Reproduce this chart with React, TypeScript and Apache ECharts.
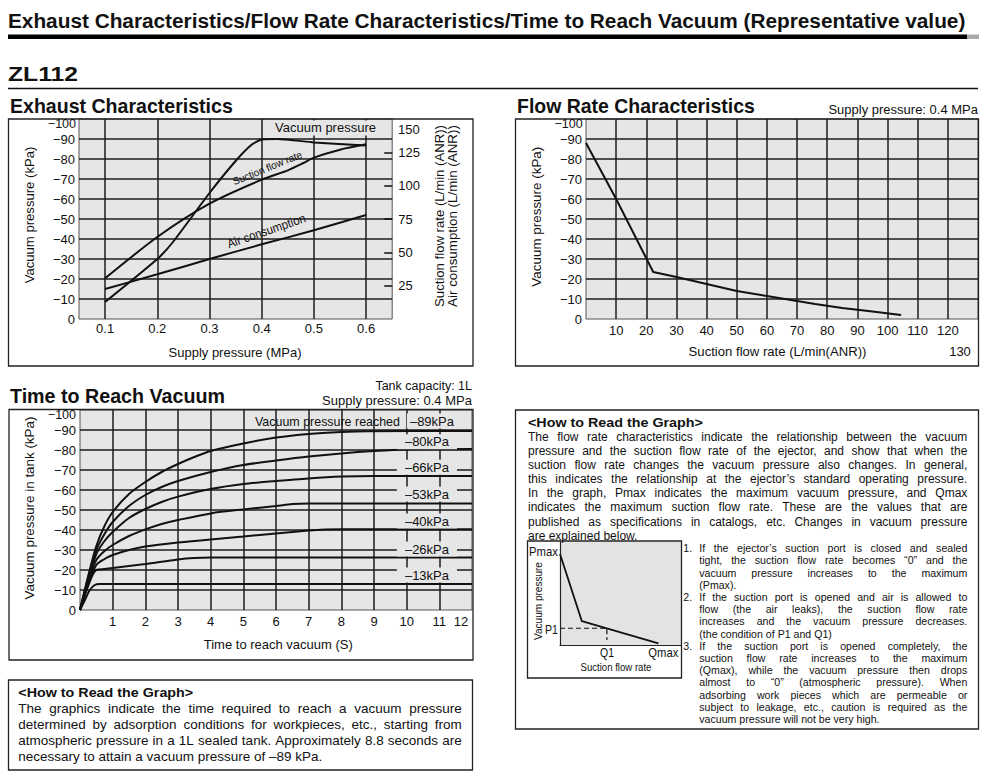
import React, { useEffect, useRef } from "react";
import * as echarts from "echarts";

const FONT = '"Liberation Sans", Arial, Helvetica, sans-serif';
const INK = "#111111";
const GRID_LINE = "#1c1c1c";
const PLOT_BG = "#e6e6e6";

// ---------- Exhaust characteristics (x = supply pressure, MPa) ----------
const vacuumPressureKPa: [number, number][] = [
  [0.1, -8.5], [0.2, -30], [0.23, -38.5], [0.3, -63], [0.35, -79], [0.38, -87],
  [0.4, -89.8], [0.43, -90], [0.5, -88.3], [0.6, -86.8],
];
const suctionFlowLmin: [number, number][] = [
  [0.1, 30.5], [0.2, 61.5], [0.3, 86.5], [0.4, 104.5], [0.45, 111.5], [0.48, 117],
  [0.5, 121], [0.55, 127], [0.6, 131],
];
const airConsumptionLmin: [number, number][] = [
  [0.1, 22.5], [0.2, 33.5], [0.3, 45], [0.4, 56], [0.5, 66.5], [0.6, 78],
];
const exhaustXTicks = [0.1, 0.2, 0.3, 0.4, 0.5, 0.6];
const flowAxisTicks = [25, 50, 75, 100, 125];

// ---------- Flow rate characteristics (supply pressure 0.4 MPa) ----------
const flowCurve: [number, number][] = [
  [0, -88], [10, -60], [22.3, -23.5], [30, -21], [40, -17.5], [50, -14], [60, -11.5],
  [70, -9], [76, -7.5], [85, -5.5], [95, -3.7], [104.5, -2],
];
const flowXTicks = [10, 20, 30, 40, 50, 60, 70, 80, 90, 100, 110, 120];

// ---------- Time to reach vacuum (tank 1L, 0.4 MPa) ----------
const reach89: [number, number][] = [
  [0, 0], [0.25, -17], [0.5, -32], [0.75, -42], [1, -49], [1.5, -58], [2, -64], [2.5, -69],
  [3, -73], [3.5, -76.5], [4, -79.5], [5, -83.3], [6, -86.2], [7, -88], [8, -89], [8.8, -89.4], [12, -89.5],
];
const reach80: [number, number][] = [
  [0, 0], [0.25, -16], [0.5, -30], [0.75, -38], [1, -44], [1.5, -52], [2, -57.5], [2.5, -61.5],
  [3, -64.5], [4, -69], [5, -72.5], [6, -74.7], [7, -76.7], [8, -78.3], [9, -79.5], [10, -80.3], [12, -80.5],
];
const reach66: [number, number][] = [
  [0, 0], [0.25, -15], [0.5, -28], [0.75, -34.5], [1, -39], [1.5, -46], [2, -50.5], [2.5, -54],
  [3, -56.7], [4, -60.5], [5, -63], [6, -64.5], [7, -65.8], [8, -66.7], [9, -67], [12, -67],
];
const reach53: [number, number][] = [
  [0, 0], [0.25, -14], [0.5, -25], [0.75, -29.5], [1, -32.5], [1.5, -37], [2, -40.3], [2.5, -43],
  [3, -45], [4, -48.3], [5, -50.3], [6, -52], [6.5, -53], [7, -53.3], [12, -53.3],
];
const reach40: [number, number][] = [
  [0, 0], [0.25, -13], [0.5, -22.5], [0.75, -25.5], [1, -27.5], [1.5, -30], [2, -31.7], [3, -33.7],
  [4, -35.3], [5, -36.7], [6, -38.3], [7, -39.7], [7.5, -40.2], [8, -40.4], [12, -40.4],
];
const reach26: [number, number][] = [
  [0, 0], [0.25, -12], [0.4, -18], [0.5, -20], [0.75, -20.5], [1, -21], [2, -23], [3, -25.3],
  [3.5, -26], [4, -26.2], [12, -26.2],
];
const reach13: [number, number][] = [
  [0, 0], [0.15, -5], [0.3, -10], [0.45, -12.5], [0.6, -13], [12, -13],
];
const reachCurves = [reach89, reach80, reach66, reach53, reach40, reach26, reach13];
const reachLabels = ["–89kPa", "–80kPa", "–66kPa", "–53kPa", "–40kPa", "–26kPa", "–13kPa"];
const timeXTicks = [1, 2, 3, 4, 5, 6, 7, 8, 9, 10, 11];

// ---------- Schematic P-Q graph (relative units) ----------
const pqCurve: [number, number][] = [[0, 88], [18, 23], [81, 1.6]];
const pqDash: [number, number][] = [[0, 16.2], [38.6, 16.2], [38.6, 4.8]];

// ---------- Texts ----------
const rightParagraph = [
  "The flow rate characteristics indicate the relationship between the vacuum",
  "pressure and the suction flow rate of the ejector, and show that when the",
  "suction flow rate changes the vacuum pressure also changes. In general,",
  "this indicates the relationship at the ejector’s standard operating pressure.",
  "In the graph, Pmax indicates the maximum vacuum pressure, and Qmax",
  "indicates the maximum suction flow rate. These are the values that are",
  "published as specifications in catalogs, etc. Changes in vacuum pressure",
  "are explained below.",
];
const listLines: [string, string, boolean][] = [
  ["1.", "If the ejector’s suction port is closed and sealed", true],
  ["", "tight, the suction flow rate becomes “0” and the", true],
  ["", "vacuum pressure increases to the maximum", true],
  ["", "(Pmax).", false],
  ["2.", "If the suction port is opened and air is allowed to", true],
  ["", "flow (the air leaks), the suction flow rate", true],
  ["", "increases and the vacuum pressure decreases.", true],
  ["", "(the condition of P1 and Q1)", false],
  ["3.", "If the suction port is opened completely, the", true],
  ["", "suction flow rate increases to the maximum", true],
  ["", "(Qmax), while the vacuum pressure then drops", true],
  ["", "almost to “0” (atmospheric pressure). When", true],
  ["", "adsorbing work pieces which are permeable or", true],
  ["", "subject to leakage, etc., caution is required as the", true],
  ["", "vacuum pressure will not be very high.", false],
];
const leftParagraph = [
  "The graphics indicate the time required to reach a vacuum pressure",
  "determined by adsorption conditions for workpieces, etc., starting from",
  "atmospheric pressure in a 1L sealed tank. Approximately 8.8 seconds are",
  "necessary to attain a vacuum pressure of –89 kPa.",
];

// ---------- helpers ----------
let mctx: CanvasRenderingContext2D | null = null;
function textWidth(s: string, size: number, weight: string) {
  if (!mctx) mctx = document.createElement("canvas").getContext("2d");
  mctx!.font = `${weight} ${size}px ${FONT}`;
  return mctx!.measureText(s).width;
}

type TOpt = {
  size?: number; weight?: string; align?: string; fit?: number; rot?: number;
  bg?: string; pad?: number[]; fill?: string; z?: number;
};
function T(text: string, x: number, y: number, o: TOpt = {}) {
  const size = o.size ?? 13;
  const weight = o.weight ?? "normal";
  const sx = o.fit ? o.fit / textWidth(text, size, weight) : 1;
  const align = o.align ?? "left";
  return {
    type: "text", x, y, rotation: o.rot ?? 0, scaleX: sx, scaleY: 1, z: o.z ?? 20, silent: true,
    style: {
      text, fill: o.fill ?? INK, font: `${weight} ${size}px ${FONT}`,
      align, verticalAlign: "middle", textAlign: align, textVerticalAlign: "middle",
      backgroundColor: o.bg, padding: o.pad,
    },
  };
}

function justified(line: string, x: number, y: number, width: number, size: number, full: boolean) {
  if (!full) {
    const nat = textWidth(line, size, "normal");
    return [T(line, x, y, { size, fit: nat > width ? width : undefined })];
  }
  const words = line.split(" ");
  const ws = words.map((w) => textWidth(w, size, "normal"));
  const total = ws.reduce((a, b) => a + b, 0);
  const minGap = textWidth(" ", size, "normal") * 0.8;
  let gap = (width - total) / (words.length - 1);
  let sc = 1;
  if (gap < minGap) {
    gap = minGap;
    sc = (width - minGap * (words.length - 1)) / total;
  }
  const out: any[] = [];
  let cx = x;
  words.forEach((w, i) => {
    out.push(T(w, cx, y, { size, fit: ws[i] * sc }));
    cx += ws[i] * sc + gap;
  });
  return out;
}

const box = (x: number, y: number, w: number, h: number) => ({
  type: "rect", z: 15, silent: true, shape: { x, y, width: w, height: h },
  style: { fill: "none", stroke: "#222", lineWidth: 1.3 },
});

const negFmt = (v: number) => (v === 0 ? "0" : v <= -100 ? "" : "−" + Math.abs(v));
const labelBase = { color: INK, fontSize: 13, fontFamily: FONT };
const gl = { color: GRID_LINE, width: 1.5 };

function pressureAxis(gridIndex: number) {
  return {
    type: "value", gridIndex, min: -100, max: 0, interval: 10, inverse: true,
    axisLine: { show: false }, axisTick: { show: false },
    axisLabel: { ...labelBase, margin: 4, formatter: negFmt },
    splitLine: { show: true, showMinLine: false, showMaxLine: false, lineStyle: gl },
  };
}

function curve(xi: number, yi: number, data: [number, number][], smooth: number, extra: any = {}) {
  return {
    type: "line", xAxisIndex: xi, yAxisIndex: yi, data, smooth,
    symbol: "none", showSymbol: false, silent: true, z: 3,
    lineStyle: { color: INK, width: 2 }, ...extra,
  };
}

export default function App() {
  const ref = useRef<HTMLDivElement>(null);
  useEffect(() => {
    if (!ref.current) return;
    const chart = echarts.init(ref.current, undefined, { renderer: "svg" });

    const els: any[] = [];
    // header
    els.push(T("Exhaust Characteristics/Flow Rate Characteristics/Time to Reach Vacuum (Representative value)", 8, 21, { size: 20, weight: "bold", fit: 958 }));
    els.push({ type: "rect", silent: true, z: 15, shape: { x: 8, y: 34.5, width: 959, height: 4.5 }, style: { fill: "#000" } });
    els.push({ type: "rect", silent: true, z: 15, shape: { x: 967, y: 34.5, width: 12, height: 4.5 }, style: { fill: "#aaa" } });
    els.push(T("ZL112", 8, 74, { size: 20, weight: "bold", fit: 70 }));
    els.push({ type: "line", silent: true, z: 15, shape: { x1: 8, y1: 88.5, x2: 978, y2: 88.5 }, style: { stroke: "#111", lineWidth: 1.5 } });

    // section titles
    els.push(T("Exhaust Characteristics", 10, 106, { size: 19.5, weight: "bold", fit: 223 }));
    els.push(T("Flow Rate Characteristics", 517, 106, { size: 19.5, weight: "bold", fit: 238 }));
    els.push(T("Supply pressure: 0.4 MPa", 978, 109, { align: "right" }));
    els.push(T("Time to Reach Vacuum", 10, 396, { size: 19.5, weight: "bold", fit: 215 }));
    els.push(T("Tank capacity: 1L", 472, 386.2, { align: "right", size: 12.5 }));
    els.push(T("Supply pressure: 0.4 MPa", 472, 400.8, { align: "right", size: 12.5, fit: 150 }));

    // boxes
    els.push(box(8.5, 119, 464.5, 247));
    els.push(box(515.5, 119, 463, 247));
    els.push(box(9, 409.5, 464, 250.5));
    els.push(box(8.5, 680, 464, 90));
    els.push(box(515.5, 410, 463, 319));
    els.push(box(527.5, 541, 154, 137));

    const R = Math.PI / 2;
    // top "−100" labels sit a little below the plot top
    els.push(T("−100", 76, 124.4, { align: "right", size: 12.5 }));
    els.push(T("−100", 582.7, 124.4, { align: "right", size: 12.5 }));
    els.push(T("−100", 76, 415.2, { align: "right", size: 12.5 }));

    // exhaust texts
    els.push(T("Vacuum pressure (kPa)", 30, 215, { align: "center", rot: R, fit: 137 }));
    els.push(T("Suction flow rate (L/min (ANR))", 440, 216, { align: "center", rot: R, fit: 182 }));
    els.push(T("Air consumption (L/min (ANR))", 452.5, 216, { align: "center", rot: R, fit: 182 }));
    els.push(T("Supply pressure (MPa)", 235, 352, { align: "center", fit: 133 }));
    els.push(T("150", 398, 129));
    els.push(T("Vacuum pressure", 325.5, 128, { align: "center", fit: 101, bg: PLOT_BG, pad: [1, 3] }));
    els.push(T("Suction flow rate", 267.3, 168, { align: "center", size: 10.5, fit: 74, rot: 0.39 }));
    els.push(T("Air consumption", 266.3, 231, { align: "center", size: 12.5, fit: 82, rot: 0.33 }));

    // flow texts
    els.push(T("Vacuum pressure (kPa)", 537, 216.7, { align: "center", rot: R, fit: 140 }));
    els.push(T("Suction flow rate (L/min(ANR))", 777.5, 352, { align: "center", fit: 178 }));
    els.push(T("130", 960, 351, { align: "center" }));

    // time texts
    els.push(T("Vacuum pressure in tank (kPa)", 30, 508, { align: "center", rot: R, fit: 183 }));
    els.push(T("Time to reach vacuum (S)", 278.3, 644.3, { align: "center", fit: 149 }));
    els.push(T("12", 461, 621.7, { align: "center" }));
    els.push(T("Vacuum pressure reached", 255, 421, { fit: 145 }));
    const labelY = [421, 441.7, 467.3, 494, 521, 549, 575];
    reachLabels.forEach((s, i) => {
      els.push(T(s, 457, labelY[i], { align: "right", bg: PLOT_BG, pad: i === 0 ? [1, 3] : [1, 8] }));
    });

    // left how-to box
    els.push(T("<How to Read the Graph>", 18.3, 691.7, { size: 13.5, weight: "bold", fit: 175 }));
    const leftY = [708.3, 724.3, 740, 756];
    leftParagraph.forEach((l, i) => {
      els.push(...justified(l, 18.3, leftY[i], 443.4, 13.5, i < leftParagraph.length - 1));
    });

    // right how-to box
    els.push(T("<How to Read the Graph>", 528, 421.7, { size: 13.5, weight: "bold", fit: 175 }));
    const rightY = [436.7, 450.7, 465, 479, 493, 506.7, 521.7, 535.7];
    rightParagraph.forEach((l, i) => {
      els.push(...justified(l, 528, rightY[i], 439.3, 12, i < rightParagraph.length - 1));
    });
    const listY = [548.3, 560.3, 572.7, 585, 597.3, 609, 621, 633.7, 645.7, 657.7, 670, 682.3, 695, 707, 719];
    listLines.forEach(([num, l, full], i) => {
      if (num) els.push(T(num, 683.3, listY[i], { size: 10.6 }));
      els.push(...justified(l, 699.3, listY[i], 268, 10.6, full));
    });

    // mini graph labels
    els.push(T("Pmax", 529, 551.7, { fit: 29 }));
    els.push(T("P1", 545, 630, { fit: 13 }));
    els.push(T("Q1", 607, 653, { align: "center", fit: 14 }));
    els.push(T("Qmax", 663.3, 653, { align: "center", fit: 30 }));
    els.push(T("Suction flow rate", 616, 667.3, { align: "center", size: 11, fit: 71 }));
    els.push(T("Vacuum pressure", 538, 601, { align: "center", size: 11, fit: 78, rot: R }));

    const gridBase = { show: true, backgroundColor: PLOT_BG, borderColor: "#555", borderWidth: 1, containLabel: false };

    const option: any = {
      animation: false,
      textStyle: { fontFamily: FONT },
      grid: [
        { ...gridBase, left: 79, top: 119, width: 313.2, height: 200 },
        { ...gridBase, left: 586, top: 119, width: 392, height: 200 },
        { ...gridBase, left: 80, top: 410, width: 392, height: 200 },
        { show: true, backgroundColor: "#e3e3e3", borderWidth: 0, left: 560, top: 541.5, width: 121.5, height: 103.5 },
      ],
      xAxis: [
        {
          type: "value", gridIndex: 0, min: 0.05, max: 0.65, splitNumber: 6,
          axisLine: { show: false, onZero: false }, axisTick: { show: false },
          axisLabel: {
            ...labelBase, margin: 3, customValues: exhaustXTicks,
            formatter: (v: number) => (Math.abs(v * 10 - Math.round(v * 10)) < 1e-6 ? v.toFixed(1) : ""),
          },
          splitLine: { show: true, showMinLine: false, showMaxLine: false, lineStyle: gl },
        },
        {
          type: "value", gridIndex: 1, min: 0, max: 130, interval: 10,
          axisLine: { show: false, onZero: false }, axisTick: { show: false },
          axisLabel: { ...labelBase, margin: 5, customValues: flowXTicks, formatter: (v: number) => (v === 0 || v === 130 ? "" : String(v)) },
          splitLine: { show: true, showMinLine: false, showMaxLine: false, lineStyle: gl },
        },
        {
          type: "value", gridIndex: 2, min: 0, max: 12, interval: 1,
          axisLine: { show: false, onZero: false }, axisTick: { show: false },
          axisLabel: { ...labelBase, margin: 5, customValues: timeXTicks, formatter: (v: number) => (v === 0 || v === 12 ? "" : String(v)) },
          splitLine: { show: true, showMinLine: false, showMaxLine: false, lineStyle: gl },
        },
        {
          type: "value", gridIndex: 3, min: 0, max: 100,
          axisLine: { show: true, onZero: false, lineStyle: { color: "#222", width: 1.2 } },
          axisTick: { show: false }, axisLabel: { show: false }, splitLine: { show: false },
        },
      ],
      yAxis: [
        pressureAxis(0),
        {
          type: "value", gridIndex: 0, position: "right", min: 0, max: 150, interval: 25,
          axisLine: { show: false },
          axisTick: { show: true, inside: true, length: 8, customValues: flowAxisTicks, lineStyle: { color: INK, width: 1.5 } },
          axisLabel: { ...labelBase, margin: 6, customValues: flowAxisTicks, formatter: (v: number) => (v === 0 || v === 150 ? "" : String(v)) },
          splitLine: { show: false },
        },
        pressureAxis(1),
        pressureAxis(2),
        {
          type: "value", gridIndex: 3, min: 0, max: 100,
          axisLine: { show: true, lineStyle: { color: "#222", width: 1.2 } },
          axisTick: { show: false }, axisLabel: { show: false }, splitLine: { show: false },
        },
      ],
      series: [
        curve(0, 0, vacuumPressureKPa, 0.2),
        curve(0, 1, suctionFlowLmin, 0.25),
        curve(0, 1, airConsumptionLmin, 0.2),
        curve(1, 2, flowCurve, 0),
        ...reachCurves.map((c) => curve(2, 3, c, 0.3)),
        curve(3, 4, pqCurve, 0, { lineStyle: { color: INK, width: 1.8 } }),
        curve(3, 4, pqDash, 0, { lineStyle: { color: INK, width: 1.2, type: [5, 3] } }),
      ],
      graphic: { elements: els },
    };
    chart.setOption(option);
    return () => chart.dispose();
  }, []);
  return (
    <div
      ref={ref}
      style={{ position: "absolute", left: 0, top: 0, width: 986, height: 780, background: "#fff" }}
    />
  );
}
